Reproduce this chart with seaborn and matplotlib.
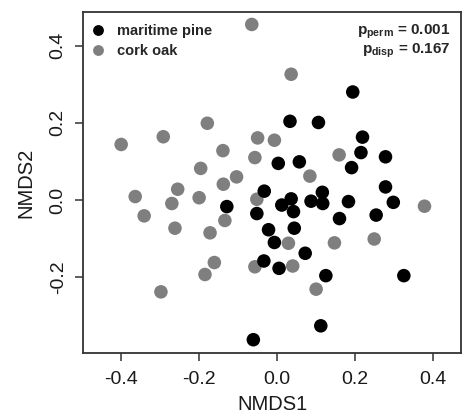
import numpy as np
import matplotlib
matplotlib.use("Agg")
import matplotlib.pyplot as plt
import pandas as pd
import seaborn as sns

# NMDS scores
pine_x = [0.195, 0.034, 0.107, 0.220, 0.216, 0.279, 0.004, 0.058, 0.192, 0.279,
          -0.032, 0.117, 0.037, 0.088, 0.118, 0.184, 0.299, -0.128, 0.013, 0.043,
          -0.051, 0.255, 0.161, -0.021, 0.045, -0.006, 0.073, -0.033, 0.006, 0.126,
          0.326, 0.113, -0.060]
pine_y = [0.280, 0.204, 0.201, 0.163, 0.123, 0.112, 0.095, 0.099, 0.084, 0.034,
          0.023, 0.020, 0.003, -0.003, -0.009, -0.004, -0.006, -0.017, -0.013, -0.030,
          -0.035, -0.039, -0.048, -0.077, -0.073, -0.110, -0.138, -0.158, -0.177, -0.196,
          -0.196, -0.326, -0.362]
oak_x = [-0.064, 0.037, -0.178, -0.399, -0.291, -0.049, -0.006, -0.138, 0.160, -0.056,
         -0.195, -0.103, 0.085, -0.137, -0.254, -0.363, -0.199, -0.051, 0.379, -0.269,
         -0.340, -0.133, -0.261, -0.171, 0.030, 0.148, 0.250, -0.160, -0.056, 0.041,
         -0.184, -0.297, 0.101]
oak_y = [0.455, 0.326, 0.199, 0.144, 0.164, 0.161, 0.155, 0.128, 0.117, 0.110,
         0.082, 0.060, 0.062, 0.041, 0.028, 0.009, 0.006, 0.002, -0.016, -0.009,
         -0.041, -0.053, -0.073, -0.085, -0.112, -0.111, -0.101, -0.162, -0.173, -0.171,
         -0.193, -0.238, -0.231]
groups = ["maritime pine", "cork oak"]
colors = {"maritime pine": "#000000", "cork oak": "#7f7f7f"}
x_ticks = [-0.4, -0.2, 0.0, 0.2, 0.4]
y_ticks = [-0.2, 0.0, 0.2, 0.4]

# gray points first so the black ones sit on top
df = pd.concat([
    pd.DataFrame({"NMDS1": oak_x, "NMDS2": oak_y, "group": "cork oak"}),
    pd.DataFrame({"NMDS1": pine_x, "NMDS2": pine_y, "group": "maritime pine"}),
], ignore_index=True)

sns.set_style("ticks")
plt.rcParams["font.family"] = ["Liberation Sans", "DejaVu Sans"]
plt.rcParams["mathtext.fontset"] = "custom"
plt.rcParams["mathtext.rm"] = "Liberation Sans"
plt.rcParams["mathtext.bf"] = "Liberation Sans:bold"

fig = plt.figure(figsize=(4.63, 4.19), dpi=100)
ax = fig.add_axes([0.180, 0.157, 0.816, 0.815])

sns.scatterplot(data=df, x="NMDS1", y="NMDS2", hue="group", hue_order=groups,
                palette=colors, s=95, linewidth=0, ax=ax)

ax.set_xlim(-0.496, 0.473)
ax.set_ylim(-0.397, 0.488)
ax.set_xticks(x_ticks)
ax.set_yticks(y_ticks)
ax.set_xticklabels([f"{t:.1f}" for t in x_ticks])
ax.set_yticklabels([f"{t:.1f}" for t in y_ticks], rotation=90, va="center")
ax.tick_params(direction="out", length=6, width=1.1, color="#333333",
               labelsize=14, labelcolor="#1a1a1a")
ax.tick_params(axis="x", pad=7)
ax.tick_params(axis="y", pad=6)
ax.set_xlabel("NMDS1", fontsize=14.5, color="#1a1a1a", labelpad=5)
ax.set_ylabel("NMDS2", fontsize=14.5, color="#1a1a1a", labelpad=10)
for sp in ax.spines.values():
    sp.set_visible(True)
    sp.set_color("#333333")
    sp.set_linewidth(1.3)

sns.move_legend(ax, "upper left", bbox_to_anchor=(0.0, 0.965), frameon=False,
                title=None, fontsize=10.5, handletextpad=0.3, labelspacing=0.42,
                borderpad=0.0, borderaxespad=0.0, markerscale=0.8)
for t in ax.get_legend().get_texts():
    t.set_fontweight("bold")

ax.text(0.972, 0.942, r"$\mathbf{p_{perm}}$ = 0.001", transform=ax.transAxes,
        ha="right", va="center", fontsize=11, fontweight="bold")
ax.text(0.972, 0.884, r"$\mathbf{p_{disp}}$ = 0.167", transform=ax.transAxes,
        ha="right", va="center", fontsize=11, fontweight="bold")

fig.savefig("out.png", dpi=100)
